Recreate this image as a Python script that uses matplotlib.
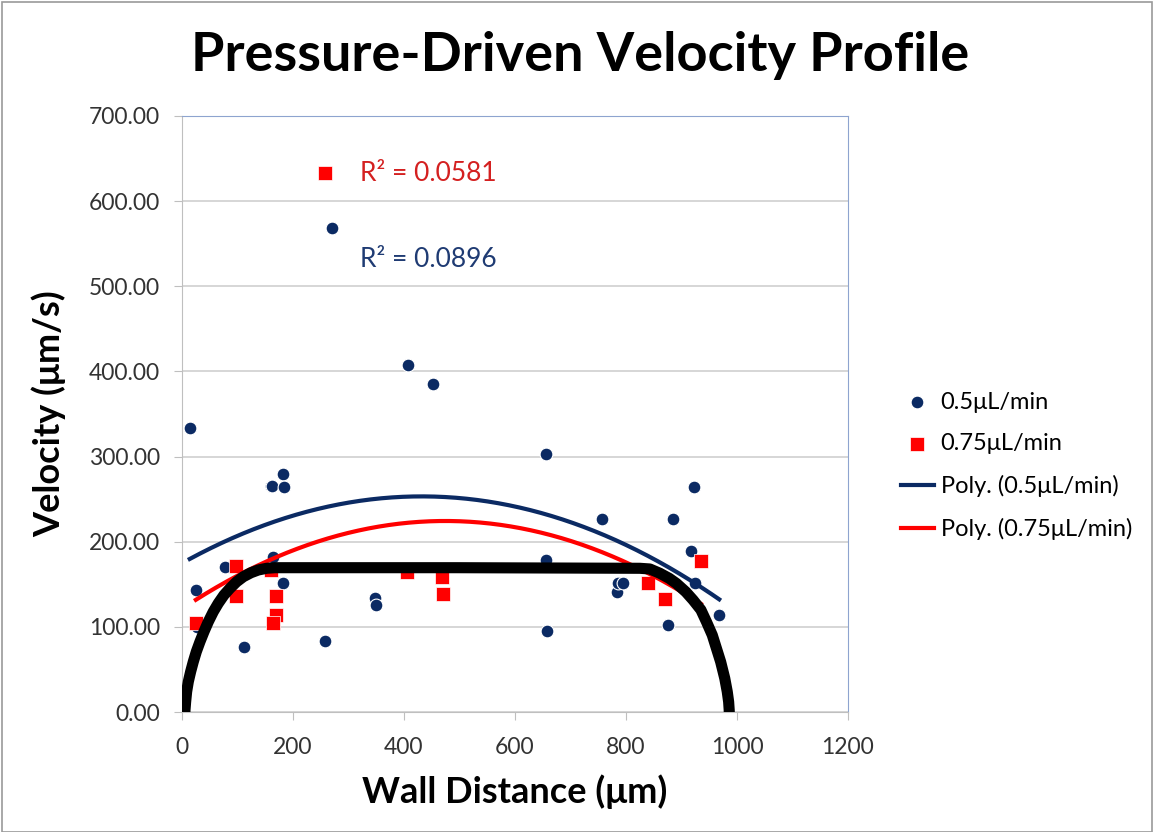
import numpy as np
import matplotlib.pyplot as plt
from matplotlib.patches import Rectangle

# --- DATA ---
x_05 = [14, 25, 77, 112, 161, 162, 164, 182, 184, 182, 257, 271, 348, 350, 408, 452,
        656, 656, 658, 756, 784, 785, 795, 876, 885, 918, 923, 924, 968, 27]
v_05 = [334, 143, 170, 76, 266, 266, 182, 280, 264, 151, 83, 568, 134, 126, 407, 385,
        303, 178, 95, 227, 141, 151, 151, 102, 227, 189, 264, 151, 114, 100]

x_075 = [25, 97, 97, 160, 169, 170, 164, 257, 406, 468, 471, 840, 870, 935]
v_075 = [105, 171, 136, 167, 136, 114, 105, 633, 164, 158, 139, 151, 133, 177]

r2_05 = "R\u00b2 = 0.0896"
r2_075 = "R\u00b2 = 0.0581"

# theoretical profile (black)
x_theory = [5.4, 6.6, 8.4, 11.4, 15.6, 20.4, 25.8, 32.4, 39.6, 47.4, 56.4, 65.4, 75.7,
            86.5, 98.5, 110.5, 124.3, 137.5, 152.6, 167.6, 495,
            825, 843, 861, 878, 891, 908, 921, 935, 945, 955.5, 963, 970.6, 978,
            982.5, 985, 986]
v_theory = [2.3, 12.1, 23.9, 35.6, 47.4, 59.1, 70.8, 82.6, 94.3, 106, 117.8, 127.7, 137.4,
            145.3, 153, 158.9, 163.6, 166.8, 168.8, 169.5, 169.5,
            168.8, 168, 163, 157, 151, 141, 131.5, 120, 106, 90.4, 74.8, 59, 39.6,
            23.9, 12, 2.3]

NAVY = '#0B2A63'
RED = '#FF0000'

plt.rcParams['font.family'] = ['Lato', 'DejaVu Sans']

fig = plt.figure(figsize=(11.54, 8.32), dpi=100)
ax = fig.add_axes([0.1577, 0.1442, 0.5771, 0.7164])

ax.set_xlim(0, 1200)
ax.set_ylim(0, 700)
ax.set_xticks(np.arange(0, 1201, 200))
ax.set_yticks(np.arange(0, 701, 100))
ax.set_yticklabels([f"{v:.2f}" for v in np.arange(0, 701, 100)])
ax.grid(axis='y', color='#D0D0D0', linewidth=1.2)
ax.set_axisbelow(True)
ax.tick_params(labelsize=16.5, colors='#333333', length=6, color='#BFBFBF')
ax.tick_params(axis='y', pad=10)
ax.tick_params(axis='x', pad=12)
for s in ['left', 'bottom']:
    ax.spines[s].set_color('#BFBFBF')
for s in ['top', 'right']:
    ax.spines[s].set_color('#8EA4CF')

# theory curve (extends just below the axis, clipped there)
ax.plot([x_theory[0] - 0.3] + x_theory + [x_theory[-1] + 0.3],
        [-5] + v_theory + [-5], color='black', linewidth=8,
        solid_capstyle='butt', solid_joinstyle='round', zorder=4)

# scatter data
ax.scatter(x_05, v_05, s=85, color=NAVY, edgecolors='white', linewidths=0.8,
           zorder=3, label='0.5\u03bcL/min')
ax.scatter(x_075, v_075, s=110, marker='s', color=RED, edgecolors='white',
           linewidths=0.5, zorder=3, label='0.75\u03bcL/min')

# 2nd order polynomial trendlines
for xs, vs, col, lab in [(x_05, v_05, NAVY, 'Poly. (0.5\u03bcL/min)'),
                         (x_075, v_075, RED, 'Poly. (0.75\u03bcL/min)')]:
    p = np.polyfit(xs, vs, 2)
    xx = np.linspace(min(xs), max(xs), 200)
    ax.plot(xx, np.polyval(p, xx), color=col, linewidth=3, zorder=3, label=lab)

ax.text(321, 633, r2_075, color='#D42020', fontsize=19, va='center')
ax.text(321, 532, r2_05, color='#1F3B73', fontsize=19, va='center')

fig.text(0.503, 1 - 55 / 832, 'Pressure-Driven Velocity Profile', fontsize=39,
         fontweight='bold', ha='center', va='center')
ax.set_xlabel('Wall Distance (\u03bcm)', fontsize=26, fontweight='bold', labelpad=12)
ax.set_ylabel('Velocity (\u03bcm/s)', fontsize=26, fontweight='bold', labelpad=16)

fig.legend(loc='center left', bbox_to_anchor=(0.762, 0.44), frameon=False, fontsize=17,
           handlelength=1.4, handletextpad=0.3, labelspacing=0.88, scatterpoints=1)

fig.patches.append(Rectangle((0.002, 0.0), 0.996, 0.997, transform=fig.transFigure,
                             fill=False, edgecolor='#9A9A9A', linewidth=1.2))

plt.savefig('out.png', dpi=100)
